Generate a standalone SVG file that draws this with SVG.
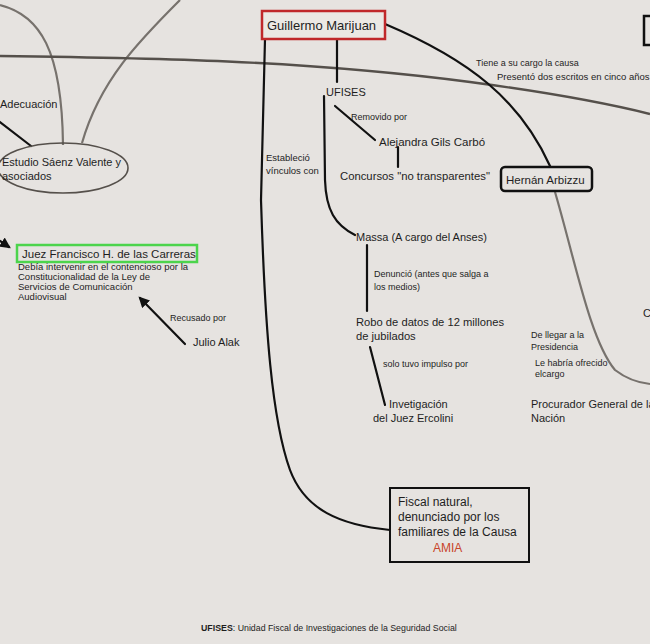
<svg xmlns="http://www.w3.org/2000/svg" width="650" height="644" viewBox="0 0 650 644">
<defs>
<style>
text{font-family:"Liberation Sans",Arial,sans-serif;fill:#1e1e1e}
.s{font-size:9px}
.m{font-size:11px}
.l{font-size:11.5px}
.k{fill:none;stroke:#111;stroke-width:2.2;stroke-linecap:round}
.g{fill:none;stroke:#77726d;stroke-width:2.2}
</style>
<marker id="ah" viewBox="0 0 10 10" refX="8" refY="5" markerWidth="5" markerHeight="5" orient="auto"><path d="M0,0 L10,5 L0,10 z" fill="#111"/></marker>
</defs>
<rect width="650" height="644" fill="#e6e3e0"/>
<g id="connectors">
<path class="g" d="M0,5 C40,15 62,50 63,145"/>
<path class="g" d="M180,0 C140,40 100,80 82,143"/>
<path d="M0,56 C150,58 300,60 470,82 C560,94 610,104 650,114" fill="none" stroke="#55504b" stroke-width="2.4"/>
<path class="g" d="M555,192 C575,260 590,340 615,370 C628,380 640,383 650,384"/>
<path class="k" d="M0,122 L31,146"/>
<path class="k" d="M0,241 L9,247" marker-end="url(#ah)"/>
<path class="k" d="M185,344 L140,298" marker-end="url(#ah)"/>
<path class="k" d="M337,39 L337,82"/>
<path class="k" d="M265,39 L261,200 C265,330 272,420 290,470 C305,510 340,525 390,530"/>
<path class="k" d="M385,24 C470,60 520,100 550,166"/>
<path class="k" d="M324,96 L325,180 C326,210 335,225 355,235"/>
<path class="k" d="M335,106 L375,140"/>
<path class="k" d="M398,147 L398,167"/>
<path class="k" d="M367,245 L367,311"/>
<path class="k" d="M370,347 L385,405"/>
</g>
<g id="estudio">
<ellipse cx="63" cy="168" rx="65" ry="25" fill="none" stroke="#55504b" stroke-width="1.6"/>
<text class="m" x="2" y="166">Estudio Sáenz Valente y</text>
<text class="m" x="2" y="180">asociados</text>
</g>
<g id="adecuacion"><text class="m" x="0" y="108">Adecuación</text></g>
<g id="juez">
<rect x="17" y="245" width="180" height="17" fill="none" stroke="#4cd44c" stroke-width="2.5"/>
<text class="l" x="22" y="258">Juez Francisco H. de las Carreras</text>
<text x="18" y="270" style="font-size:9.5px">Debía intervenir en el  contencioso por la</text>
<text x="18" y="280" style="font-size:9.5px">Constitucionalidad de la Ley de</text>
<text x="18" y="290" style="font-size:9.5px">Servicios de Comunicación</text>
<text x="18" y="300" style="font-size:9.5px">Audiovisual</text>
</g>
<g id="recusado"><text class="s" x="170" y="321">Recusado por</text></g>
<g id="alak"><text class="m" x="193" y="346">Julio Alak</text></g>
<g id="marijuan">
<rect x="262" y="11" width="123" height="28" fill="#ebe8e4" stroke="#c0282b" stroke-width="2.5"/>
<text x="267" y="30" style="font-size:13px">Guillermo Marijuan</text>
</g>
<g id="tiene">
<text class="s" x="476" y="66">Tiene a su cargo la causa</text>
<text x="497" y="80" style="font-size:9.5px">Presentó dos escritos en cinco años</text>
</g>
<g id="topright"><rect x="644" y="16" width="20" height="29" fill="none" stroke="#111" stroke-width="2.5"/></g>
<g id="ufises"><text class="m" x="326" y="96">UFISES</text></g>
<g id="removido"><text class="s" x="351" y="120">Removido por</text></g>
<g id="gils"><text x="379" y="146" style="font-size:11.5px">Alejandra Gils Carbó</text></g>
<g id="concursos"><text x="340" y="180" style="font-size:11.3px">Concursos "no transparentes"</text></g>
<g id="estable">
<text x="266" y="161" style="font-size:9.5px">Estableció</text>
<text x="266" y="174" style="font-size:9.5px">vínculos con</text>
</g>
<g id="arbizzu">
<rect x="501" y="167" width="91" height="24" rx="4" fill="none" stroke="#111" stroke-width="2.5"/>
<text class="l" x="506" y="184">Hernán Arbizzu</text>
</g>
<g id="c"><text class="m" x="643" y="317">C</text></g>
<g id="llegar">
<text class="s" x="531" y="338">De llegar a la</text>
<text class="s" x="531" y="350">Presidencia</text>
<text class="s" x="535" y="366">Le habría ofrecido</text>
<text class="s" x="535" y="377">elcargo</text>
</g>
<g id="procurador">
<text class="m" x="531" y="408">Procurador General de la</text>
<text class="m" x="531" y="422">Nación</text>
</g>
<g id="massa"><text class="m" x="356" y="241">Massa (A cargo del Anses)</text></g>
<g id="denuncio">
<text class="s" x="374" y="277">Denunció (antes que salga a</text>
<text class="s" x="374" y="290">los medios)</text>
</g>
<g id="robo">
<text x="356" y="326" style="font-size:11.2px">Robo de datos de 12 millones</text>
<text x="356" y="340" style="font-size:11.2px">de jubilados</text>
</g>
<g id="solo"><text class="s" x="383" y="367">solo tuvo impulso por</text></g>
<g id="ercolini">
<text class="m" x="389" y="408">Invetigación</text>
<text class="m" x="373" y="422">del Juez Ercolini</text>
</g>
<g id="fiscal">
<rect x="390" y="488" width="139" height="74" fill="none" stroke="#111" stroke-width="2"/>
<text x="398" y="506" style="font-size:12px">Fiscal natural,</text>
<text x="398" y="521" style="font-size:12px">denunciado por los</text>
<text x="398" y="536" style="font-size:12px">familiares de la Causa</text>
<text x="433" y="552" style="font-size:12px;fill:#c8442a">AMIA</text>
</g>
<g id="footer"><text x="201" y="631" style="font-size:8.8px"><tspan font-weight="bold">UFISES</tspan>: Unidad Fiscal de Investigaciones de la Seguridad Social</text></g>
</svg>
